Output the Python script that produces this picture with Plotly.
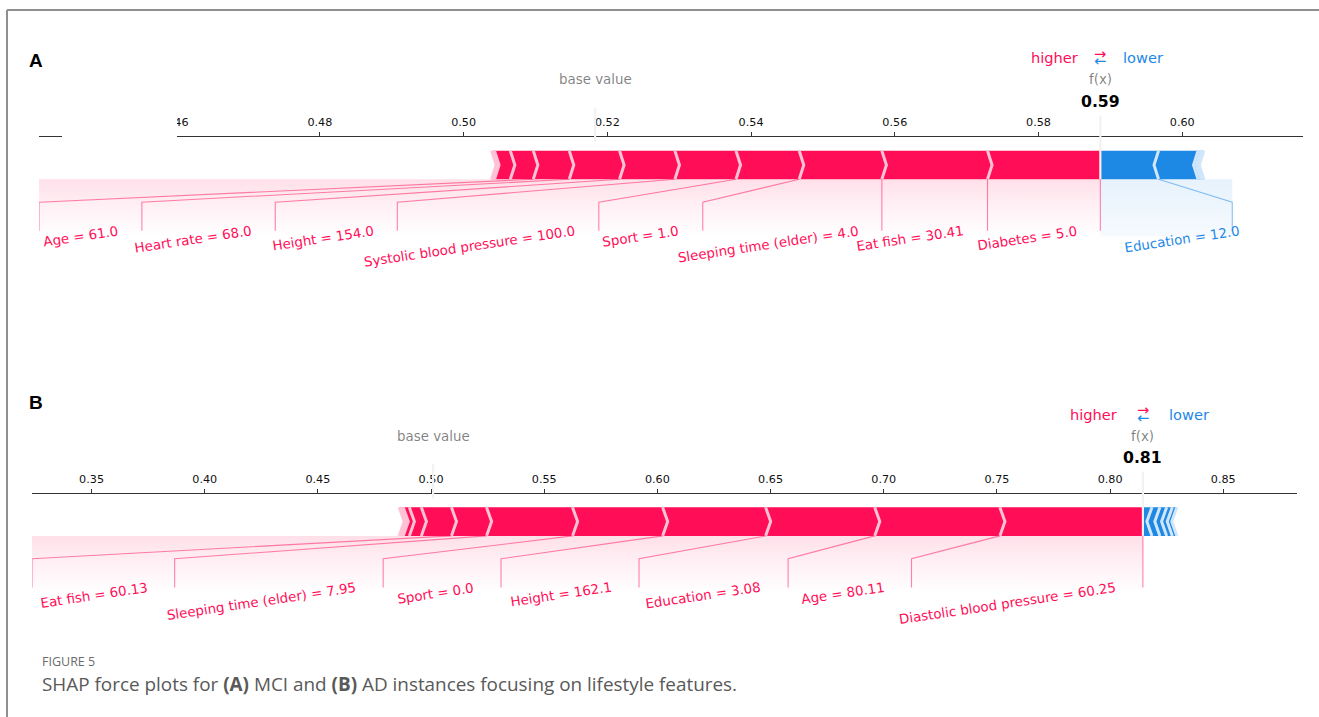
import math
import numpy as np
import plotly.graph_objects as go

# ---------------------------------------------------------------------------
# SHAP contributions of the two explained instances (sorted by magnitude)
# ---------------------------------------------------------------------------
# (A) MCI instance
a_base = 0.5183
a_pos_features = ["Diabetes", "Eat fish", "Sleeping time (elder)", "Sport",
                  "Systolic blood pressure", "Height", "Heart rate", "Age"]
a_pos_values = ["5.0", "30.41", "4.0", "1.0", "100.0", "154.0", "68.0", "61.0"]
a_pos_shap = [0.0157, 0.0147, 0.0115, 0.0088, 0.0085, 0.0077, 0.0070, 0.0050,
              0.0032, 0.0022, 0.0002, 0.0001, 0.0001]
a_neg_features = ["Education"]
a_neg_values = ["12.0"]
a_neg_shap = [0.0081, 0.0055, 0.0004, 0.0002, 0.0002]

# (B) AD instance
b_base = 0.5009
b_pos_features = ["Diastolic blood pressure", "Age", "Education", "Height",
                  "Sport", "Sleeping time (elder)", "Eat fish"]
b_pos_values = ["60.25", "80.11", "3.08", "162.1", "0.0", "7.95", "60.13"]
b_pos_shap = [0.0632, 0.0553, 0.0482, 0.0455, 0.0398, 0.0380, 0.0155,
              0.0133, 0.0053, 0.0027, 0.0009, 0.0009]
b_neg_features = []
b_neg_values = []
b_neg_shap = [0.0040, 0.0035, 0.0030, 0.0025, 0.0020]

# ---------------------------------------------------------------------------
# Styling / geometry
# ---------------------------------------------------------------------------
W, H = 1319, 717
FONT = "DejaVu Sans"
RED, RED_LIGHT = "#FF0D57", "#FFC3D5"
BLUE, BLUE_LIGHT = "#1E88E5", "#D1E6FA"
GREY_TXT = "rgba(0,0,0,0.5)"
FS_LABEL = 13.4
FS_TICK = 11.2
FS_HL = 14.6
FS_OUT = 15.7
ROT = 8.5            # label rotation (degrees, counter-clockwise)
MIN_PERC = 0.05      # minimum share of the total effect that gets a label
PX_Y = 286.0         # vertical pixels per data unit
BAR_H = 0.1
Y_RANGE = (-0.5, 0.5)
AXIS_Y = 0.15

# DejaVu Sans advance widths (font units, 2048 per em)
ADV = {' ': 651, '(': 799, ')': 799, '.': 651, '=': 1716,
       'A': 1401, 'B': 1405, 'D': 1577, 'E': 1294, 'H': 1540, 'S': 1300,
       'a': 1255, 'b': 1300, 'c': 1126, 'd': 1300, 'e': 1260, 'f': 721,
       'g': 1300, 'h': 1298, 'i': 569, 'k': 1186, 'l': 569, 'm': 1995,
       'n': 1298, 'o': 1253, 'p': 1300, 'r': 842, 's': 1067, 't': 803,
       'u': 1298, 'v': 1212, 'w': 1675, 'x': 1212, 'y': 1212}
for _d in "0123456789":
    ADV[_d] = 1303


def text_px(s, size):
    return size * sum(ADV.get(c, 1250) for c in s) / 2048.0


def label_footprint_px(s):
    """Horizontal extent of a rotated label including its padding box."""
    return text_px(s, FS_LABEL) * math.cos(math.radians(ROT)) + 0.6 * FS_LABEL


def force_layout(base, pos_shap, pos_names, pos_vals,
                 neg_shap, neg_names, neg_vals, axis_px_width):
    pos = np.asarray(pos_shap, float)
    neg = np.asarray(neg_shap, float)
    out = base + pos.sum() - neg.sum()
    pos_b = out - np.cumsum(pos)
    neg_b = out + np.cumsum(neg)
    total_pos = pos_b.max() - pos_b.min() if len(pos) else 0.0
    total_neg = neg_b.max() - neg_b.min() if len(neg) else 0.0
    offset = 0.04 * (total_pos + total_neg)
    pad = 0.2 * max(total_pos, total_neg)
    lo = (min(pos_b.min(), base) if len(pos) else out) - pad
    hi = (max(neg_b.max(), base) if len(neg) else out) + pad
    sep_w = (hi - lo) / 200.0
    total_effect = total_pos + total_neg

    # bar segments and separators
    polys, seps = [], []
    for kind in ("neg", "pos"):
        bounds = pos_b if kind == "pos" else neg_b
        col, light = (RED, RED_LIGHT) if kind == "pos" else (BLUE, BLUE_LIGHT)
        prev = out
        for i, b in enumerate(bounds):
            if kind == "pos":
                left, right, ind, sp = b, prev, sep_w, b
            else:
                left, right, ind, sp = prev, b, -sep_w, b
            prev = b
            if i == 0:
                if kind == "pos":
                    pts = [(left, 0), (right, 0), (right, BAR_H), (left, BAR_H),
                           (left + ind, BAR_H / 2)]
                else:
                    pts = [(right, 0), (left, 0), (left, BAR_H), (right, BAR_H),
                           (right + ind, BAR_H / 2)]
            else:
                pts = [(left, 0), (right, 0), (right + ind * 0.9, BAR_H / 2),
                       (right, BAR_H), (left, BAR_H), (left + ind * 0.9, BAR_H / 2)]
            polys.append((pts, col))
            seps.append(([sp, sp + ind, sp], [0, BAR_H / 2, BAR_H], light))

    # labels with their leader lines
    labels, leaders, shades = [], [], []
    lim = [lo, hi]
    for kind in ("neg", "pos"):
        if kind == "pos":
            bounds, names, vals, sign, col = pos_b, pos_names, pos_vals, 1, RED
        else:
            bounds, names, vals, sign, col = neg_b, neg_names, neg_vals, -1, BLUE
        upp = (lim[1] - lim[0]) / axis_px_width
        start = prev = box_end = out
        if kind == "pos":
            leaders.append(([out, out], [0, -0.18], col))
        for i, val in enumerate(bounds):
            if abs(val - prev) / total_effect < MIN_PERC or i >= len(names):
                break
            text = f"{names[i]} = {vals[i]}"
            anchor = start - sign * offset
            edge = anchor - sign * label_footprint_px(text) * upp
            if edge > lim[1]:
                break
            labels.append((anchor, text, col, "right" if sign > 0 else "left"))
            if sign * edge > sign * val:
                leaders.append(([val, val], [0, -0.18], col))
                start = box_end = val
            else:
                box_end = edge - sign * offset
                leaders.append(([val, box_end, box_end], [0, -0.08, -0.18], col))
                start = box_end
            prev = val
        shades.append((out, box_end, kind))
        lim = [min(lim[0], box_end), max(lim[1], box_end)]

    return dict(out=out, base=base, offset=offset, lim=lim, polys=polys,
                seps=seps, labels=labels, leaders=leaders, shades=shades)


panels = [
    dict(tag="A", xa="x", ya="y", px=(39, 1303), axis_px_y=136.4,
         d=(a_base, a_pos_shap, a_pos_features, a_pos_values,
            a_neg_shap, a_neg_features, a_neg_values)),
    dict(tag="B", xa="x2", ya="y2", px=(32, 1297), axis_px_y=493.0,
         d=(b_base, b_pos_shap, b_pos_features, b_pos_values,
            b_neg_shap, b_neg_features, b_neg_values)),
]

fig = go.Figure()
annotations, shapes = [], []
layout_axes = {}


def base_y(yb, fs, pad=0.0):
    """Bottom of a text box whose baseline sits at data height yb."""
    return yb - (0.236 * fs + pad) / PX_Y


for k, p in enumerate(panels):
    px0, px1 = p["px"]
    res = force_layout(*p["d"], axis_px_width=px1 - px0)
    xa, ya = p["xa"], p["ya"]
    out, base, off = res["out"], res["base"], res["offset"]

    # shading beneath the bar
    for x0, x1, kind in res["shades"]:
        if abs(x1 - x0) < 1e-12:
            continue
        if kind == "pos":
            cs = [[0, "rgba(255,13,87,0.0)"], [0.6, "rgba(255,13,87,0.07)"],
                  [1, "rgba(255,13,87,0.13)"]]
        else:
            cs = [[0, "rgba(30,136,229,0.04)"], [1, "rgba(30,136,229,0.11)"]]
        fig.add_trace(go.Scatter(
            x=[x0, x1, x1, x0, x0], y=[0, 0, -0.2, -0.2, 0], xaxis=xa, yaxis=ya,
            mode="lines", line=dict(width=0), fill="toself",
            fillgradient=dict(type="vertical", colorscale=cs, start=-0.2, stop=0),
            hoverinfo="skip"))

    # bar segments then separators
    for pts, col in res["polys"]:
        xs = [q[0] for q in pts] + [pts[0][0]]
        ys = [q[1] for q in pts] + [pts[0][1]]
        fig.add_trace(go.Scatter(x=xs, y=ys, xaxis=xa, yaxis=ya, mode="lines",
                                 line=dict(width=0), fill="toself",
                                 fillcolor=col, hoverinfo="skip"))
    for xs, ys, col in res["seps"]:
        fig.add_trace(go.Scatter(x=xs, y=ys, xaxis=xa, yaxis=ya, mode="lines",
                                 line=dict(color=col, width=3), hoverinfo="skip"))

    # leader lines
    for xs, ys, col in res["leaders"]:
        rgba = "rgba(255,13,87,0.5)" if col == RED else "rgba(30,136,229,0.5)"
        fig.add_trace(go.Scatter(x=xs, y=ys, xaxis=xa, yaxis=ya, mode="lines",
                                 line=dict(color=rgba, width=1.1), hoverinfo="skip"))

    # feature labels
    for ax_x, text, col, anc in res["labels"]:
        annotations.append(dict(
            x=ax_x, y=-0.15, xref=xa, yref=ya, text=text, showarrow=False,
            textangle=-ROT, xanchor=anc, yanchor="top", borderpad=0,
            font=dict(family=FONT, size=FS_LABEL, color=col)))

    # higher / lower legend, output value and base value
    annotations += [
        dict(x=out - off, y=base_y(0.405, FS_HL), xref=xa, yref=ya, text="higher",
             showarrow=False, xanchor="right", yanchor="bottom", borderpad=0,
             font=dict(family=FONT, size=FS_HL, color=RED)),
        dict(x=out + off, y=base_y(0.405, FS_HL), xref=xa, yref=ya, text="lower",
             showarrow=False, xanchor="left", yanchor="bottom", borderpad=0,
             font=dict(family=FONT, size=FS_HL, color=BLUE)),
        dict(x=out, y=0.425 + 0.3 * FS_HL / PX_Y, xref=xa, yref=ya, text="→",
             showarrow=False, xanchor="center", yanchor="middle", borderpad=0,
             font=dict(family=FONT, size=FS_HL, color=RED)),
        dict(x=out, y=0.4 + 0.3 * FS_HL / PX_Y, xref=xa, yref=ya, text="←",
             showarrow=False, xanchor="center", yanchor="middle", borderpad=0,
             font=dict(family=FONT, size=FS_HL, color=BLUE)),
        dict(x=out, y=base_y(0.33, FS_LABEL, 4), xref=xa, yref=ya, text="f(x)",
             showarrow=False, xanchor="center", yanchor="bottom", borderpad=4,
             bgcolor="white", font=dict(family=FONT, size=FS_LABEL, color=GREY_TXT)),
        dict(x=out, y=base_y(0.25, FS_OUT, 4), xref=xa, yref=ya,
             text=f"<b>{out:.2f}</b>", showarrow=False, xanchor="center",
             yanchor="bottom", borderpad=4, bgcolor="white",
             font=dict(family=FONT, size=FS_OUT, color="black")),
        dict(x=base, y=base_y(0.33, FS_LABEL, 4), xref=xa, yref=ya, text="base value",
             showarrow=False, xanchor="center", yanchor="bottom", borderpad=4,
             bgcolor="white", font=dict(family=FONT, size=FS_LABEL, color=GREY_TXT)),
    ]

    # base value and output markers
    shapes += [
        dict(type="line", xref=xa, yref=ya, x0=base, x1=base, y0=0.13, y1=0.25,
             line=dict(color="#F2F2F2", width=2.2), layer="above"),
        dict(type="line", xref=xa, yref=ya, x0=out, x1=out, y0=0, y1=0.24,
             line=dict(color="#F2F2F2", width=2.2), layer="above"),
    ]

    # axes
    top_px = p["axis_px_y"] - (Y_RANGE[1] - AXIS_Y) * PX_Y
    bot_px = p["axis_px_y"] + (AXIS_Y - Y_RANGE[0]) * PX_Y
    xkey = "xaxis" if k == 0 else "xaxis2"
    ykey = "yaxis" if k == 0 else "yaxis2"
    layout_axes[xkey] = dict(
        domain=[px0 / W, px1 / W], range=list(res["lim"]), anchor="free",
        position=1 - p["axis_px_y"] / H, side="top", showline=True,
        linecolor="#333333", linewidth=1, ticks="outside", ticklen=4,
        tickwidth=1, tickcolor="#333333", dtick=0.02 if k == 0 else 0.05,
        tick0=0, tickformat=".2f", showgrid=False, zeroline=False,
        ticklabelstandoff=2,
        tickfont=dict(family=FONT, size=FS_TICK, color="#111111"),
        fixedrange=True)
    layout_axes[ykey] = dict(
        domain=[1 - bot_px / H, 1 - top_px / H], range=list(Y_RANGE),
        visible=False, fixedrange=True, anchor=xa)

    # panel letter
    annotations.append(dict(
        x=36 / W, y=1 - (60 if k == 0 else 402) / H, xref="paper", yref="paper",
        text=f"<b>{p['tag']}</b>", showarrow=False, xanchor="center",
        yanchor="middle", font=dict(family="Liberation Sans", size=19, color="black")))

# break in the upper axis line next to the panel letter
shapes.append(dict(type="rect", xref="paper", yref="paper",
                   x0=62 / W, x1=177 / W, y0=1 - 141 / H, y1=1 - 104 / H,
                   fillcolor="white", line=dict(width=0), layer="above"))

# outer frame
shapes += [
    dict(type="line", xref="paper", yref="paper", x0=7 / W, x1=1, y0=1 - 10 / H,
         y1=1 - 10 / H, line=dict(color="#8f8f8f", width=2), layer="above"),
    dict(type="line", xref="paper", yref="paper", x0=7 / W, x1=7 / W, y0=0,
         y1=1 - 10 / H, line=dict(color="#8f8f8f", width=2), layer="above"),
]

# caption
annotations += [
    dict(x=40 / W, y=1 - 661 / H, xref="paper", yref="paper", text="FIGURE 5",
         showarrow=False, xanchor="left", yanchor="middle",
         font=dict(family="Open Sans", size=12.5, color="#6b6b6b")),
    dict(x=40 / W, y=1 - 684 / H, xref="paper", yref="paper",
         text="SHAP force plots for <b>(A)</b> MCI and <b>(B)</b> AD instances "
              "focusing on lifestyle features.",
         showarrow=False, xanchor="left", yanchor="middle",
         font=dict(family="Open Sans", size=18.9, color="#595959")),
]

fig.update_layout(
    width=W, height=H, margin=dict(l=0, r=0, t=0, b=0),
    paper_bgcolor="white", plot_bgcolor="rgba(0,0,0,0)",
    showlegend=False, hovermode=False,
    annotations=annotations, shapes=shapes, **layout_axes)

fig.write_html("out.html")
